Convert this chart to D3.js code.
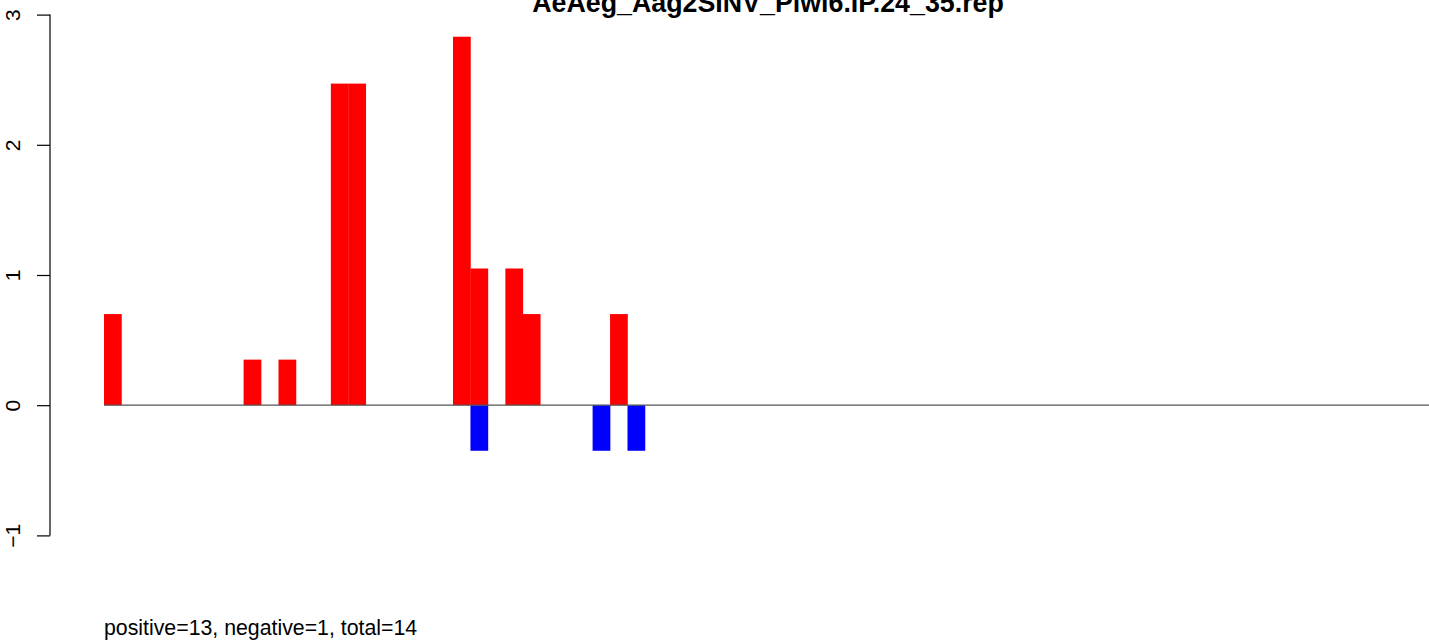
<!DOCTYPE html>
<html>
<head>
<meta charset="utf-8">
<script src="https://cdn.jsdelivr.net/npm/d3@7"></script>
<style>
    body { margin: 0; background: #fff; }
    svg text { font-family: "Liberation Sans", Arial, Helvetica, sans-serif; }
</style>
</head>
<body>
<div id="chart"></div>
<script>
// chart data
var title      = 'AeAeg_Aag2SINV_Piwi6.IP.24_35.rep';
var footer     = 'positive=13, negative=1, total=14';
var positions  = d3.range(0, 76);               // slot index along the x axis
var posIndex   = [0, 8, 10, 13, 14, 20, 21, 23, 24, 29];
var posValues  = [0.70, 0.35, 0.35, 2.47, 2.47, 2.83, 1.05, 1.05, 0.70, 0.70];
var negIndex   = [21, 28, 30];
var negValues  = [-0.35, -0.35, -0.35];
var yTicks     = [-1, 0, 1, 2, 3];

var width  = 1429,
    height = 641;

var svg = d3.select('#chart').append('svg')
    .attr('width',  width)
    .attr('height', height);

var x = d3.scaleBand()
    .domain(positions)
    .range([104, 104 + positions.length * 17.45])
    .paddingInner(0)
    .paddingOuter(0);

var y = d3.scaleLinear()
    .domain([-1, 3])
    .range([535.4, 14.6]);

var posData = posIndex.map((p, i) => ({ pos: p, value: posValues[i] }));
var negData = negIndex.map((p, i) => ({ pos: p, value: negValues[i] }));

// bars
svg.append('g')
    .attr('class', 'bars bars--pos')
    .selectAll('rect')
    .data(posData)
  .enter().append('rect')
    .attr('x', d => x(d.pos))
    .attr('y', d => y(d.value))
    .attr('width', x.bandwidth() + 0.3)
    .attr('height', d => y(0) - y(d.value))
    .attr('fill', '#ff0000')
;

svg.append('g')
    .attr('class', 'bars bars--neg')
    .selectAll('rect')
    .data(negData)
  .enter().append('rect')
    .attr('x', d => x(d.pos))
    .attr('y', y(0))
    .attr('width', x.bandwidth() + 0.3)
    .attr('height', d => y(d.value) - y(0))
    .attr('fill', '#0000ff')
;

// zero line
svg.append('line')
    .attr('x1', x(positions[0]))
    .attr('x2', width)
    .attr('y1', y(0))
    .attr('y2', y(0))
    .attr('stroke', '#555')
    .attr('stroke-width', 1.2)
;

// y axis, R style: rotated labels
var yAxis = svg.append('g')
    .attr('class', 'axis axis--y')
    .attr('transform', 'translate(50,0)')
    .call(d3.axisLeft(y).tickValues(yTicks).tickSize(13).tickFormat(d => d < 0 ? '\u2212' + Math.abs(d) : d));

yAxis.select('.domain')
    .attr('d', 'M0,' + y(-1) + 'V' + y(3))
    .attr('stroke', '#000')
    .attr('stroke-width', 1.2);
yAxis.selectAll('.tick line').attr('stroke', '#000').attr('stroke-width', 1.2);
yAxis.selectAll('.tick text')
    .attr('x', null)
    .attr('dy', null)
    .attr('transform', 'translate(-30,0) rotate(-90)')
    .attr('text-anchor', 'middle')
    .style('font-size', '21px')
    .style('font-family', '"Liberation Sans", Arial, sans-serif')
    .attr('fill', '#000');

// title (clipped at the top like the original)
svg.append('text')
    .attr('x', 768)
    .attr('y', 12)
    .attr('text-anchor', 'middle')
    .style('font-size', '26.8px')
    .style('font-weight', 'bold')
    .text(title);

svg.append('text')
    .attr('x', 104)
    .attr('y', 635)
    .style('font-size', '21.3px')
    .text(footer);
</script>
</body>
</html>
